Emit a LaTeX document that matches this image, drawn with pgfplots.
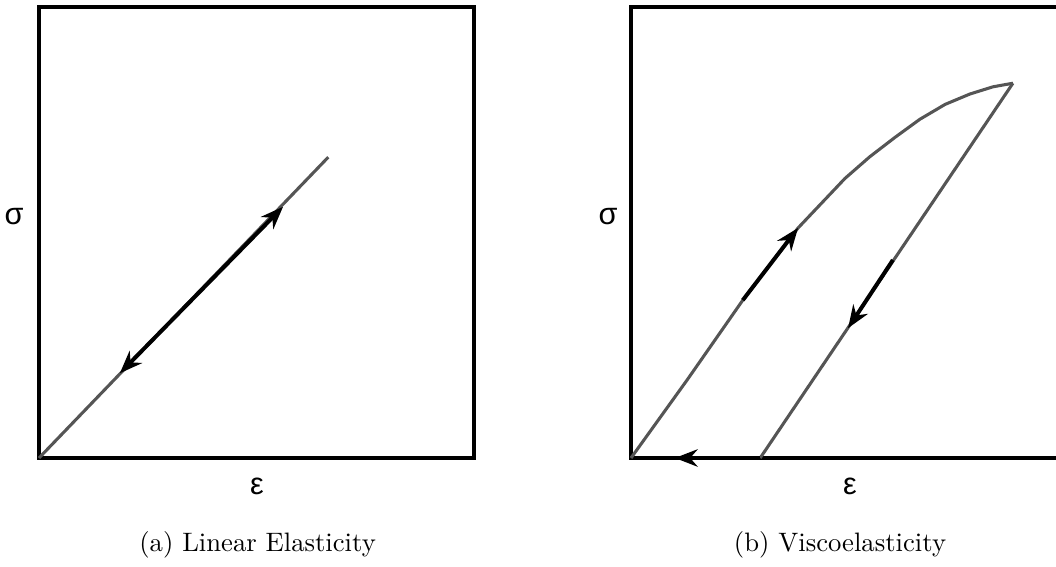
\documentclass[border=0pt]{standalone}
\usepackage{pgfplots}
\pgfplotsset{compat=1.18}
\usetikzlibrary{arrows.meta}
\usepackage{fontspec}
\newfontfamily\symfont{Liberation Sans}
\definecolor{curvegray}{RGB}{85,85,85}

\tikzset{tip/.tip={Stealth[length=8.5pt,width=6.5pt,inset=2.8pt]}}
\pgfplotsset{
  panel/.style={scale only axis, width=163.125pt, height=169.125pt,
    xmin=0, xmax=1, ymin=0, ymax=1, hide axis, clip=false, anchor=south west},
  path/.style={curvegray, line width=1.15pt, line join=round},
  load/.style={black, line width=1.5pt, line join=round},
}

\begin{document}
\begin{tikzpicture}
\useasboundingbox (0,0) rectangle (396pt,212.625pt);
\clip (0,0) rectangle (396pt,212.625pt);

% (a) linear elastic: loading and unloading on the same line
\begin{axis}[panel, at={(14.625pt,40.875pt)}]
  \draw[line width=1.5pt] (rel axis cs:0,0) rectangle (rel axis cs:1,1);
  \addplot[path] coordinates {(0,0) (0.665,0.667)};
  \addplot[load, tip-tip] coordinates {(0.186,0.188) (0.561,0.557)};
\end{axis}

% (b) viscoelastic: hysteresis loop
\begin{axis}[panel, at={(236.625pt,40.875pt)}]
  \draw[line width=1.5pt] (rel axis cs:0,0) rectangle (rel axis cs:1,1);
  % loading branch
  \addplot[path] coordinates {
    (0,0) (0.129,0.173) (0.257,0.350) (0.384,0.510) (0.492,0.620)
    (0.549,0.668) (0.607,0.711) (0.664,0.751) (0.722,0.784)
    (0.779,0.807) (0.832,0.823) (0.878,0.831)};
  % unloading branch
  \addplot[path] coordinates {(0.878,0.831) (0.297,0)};
  % direction arrows
  \addplot[load, -tip] coordinates {(0.257,0.350) (0.384,0.510)};
  \addplot[load, -tip] coordinates {(0.602,0.439) (0.499,0.288)};
  \addplot[load, -tip] coordinates {(0.297,0) (0.101,0)};
\end{axis}

% axis symbols
\node[font=\symfont\fontsize{11.5}{13}\selectfont] at (5.25pt,131.25pt) {σ};
\node[font=\symfont\fontsize{11.5}{13}\selectfont] at (96.4pt,30.4pt) {ε};
\node[font=\symfont\fontsize{11.5}{13}\selectfont] at (228pt,131.25pt) {σ};
\node[font=\symfont\fontsize{11.5}{13}\selectfont] at (318.75pt,30.4pt) {ε};

% subfigure captions
\node[font=\rmfamily\normalsize] at (96.6pt,8.3pt) {(a) Linear Elasticity};
\node[font=\rmfamily\normalsize] at (315pt,8.3pt) {(b) Viscoelasticity};
\end{tikzpicture}
\end{document}
